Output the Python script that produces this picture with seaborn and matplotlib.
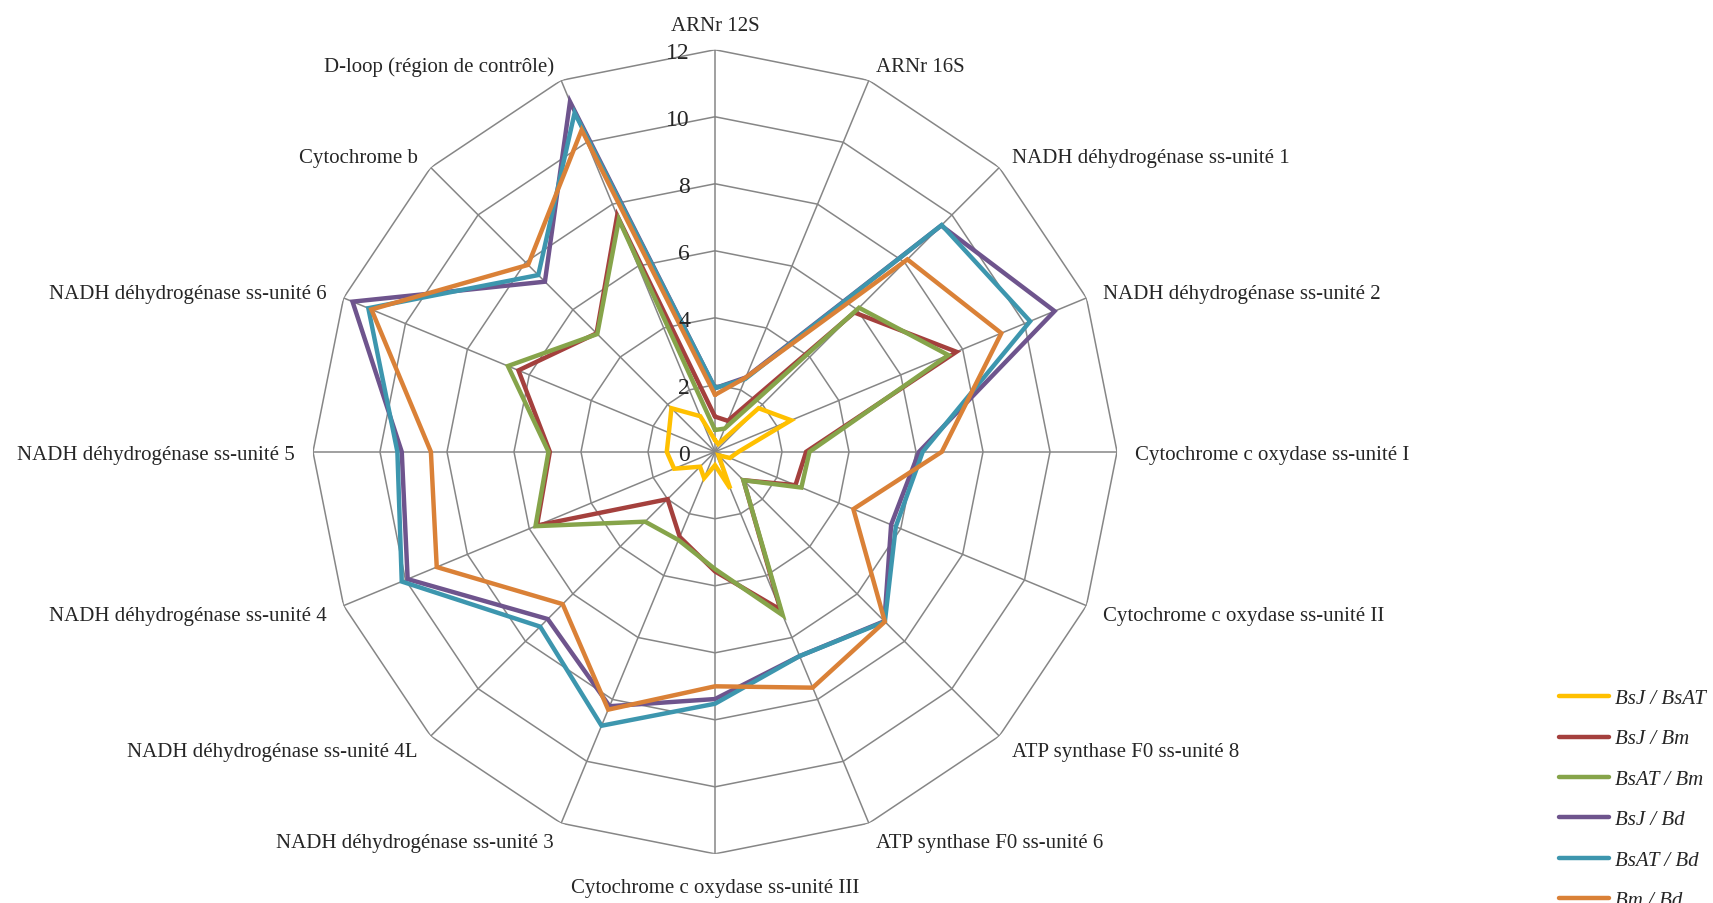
import numpy as np
import pandas as pd
import matplotlib.pyplot as plt
import seaborn as sns
from matplotlib.lines import Line2D

categories = [
    "ARNr 12S",
    "ARNr 16S",
    "NADH déhydrogénase ss-unité 1",
    "NADH déhydrogénase ss-unité 2",
    "Cytochrome c oxydase ss-unité I",
    "Cytochrome c oxydase ss-unité II",
    "ATP synthase F0 ss-unité 8",
    "ATP synthase F0 ss-unité 6",
    "Cytochrome c oxydase ss-unité III",
    "NADH déhydrogénase ss-unité 3",
    "NADH déhydrogénase ss-unité 4L",
    "NADH déhydrogénase ss-unité 4",
    "NADH déhydrogénase ss-unité 5",
    "NADH déhydrogénase ss-unité 6",
    "Cytochrome b",
    "D-loop (région de contrôle)",
]

series_names = ["BsJ / BsAT", "BsJ / Bm", "BsAT / Bm", "BsJ / Bd", "BsAT / Bd", "Bm / Bd"]

bsj_bsat = [0.35, 0.25, 1.84, 2.46, 0.7, 0.48, 0.15, 1.19, 0.4, 0.85, 0.63, 1.32, 1.44, 1.49, 1.84, 1.15]
bsj_bm = [1.05, 1.0, 5.88, 7.8, 2.72, 2.6, 1.2, 5.1, 3.57, 2.75, 2.0, 5.75, 4.93, 6.35, 5.0, 7.63]
bsat_bm = [0.65, 0.75, 6.08, 7.54, 2.82, 2.79, 1.2, 5.28, 3.5, 2.85, 2.95, 5.8, 4.97, 6.69, 4.97, 7.5]
bsj_bd = [1.9, 2.4, 9.55, 10.97, 6.09, 5.69, 7.15, 6.6, 7.38, 8.22, 7.06, 9.93, 9.35, 11.71, 7.18, 11.31]
bsat_bd = [1.9, 2.35, 9.57, 10.18, 6.2, 5.84, 7.17, 6.6, 7.52, 8.85, 7.38, 10.12, 9.48, 11.2, 7.46, 10.95]
bm_bd = [1.7, 2.4, 8.12, 9.25, 6.77, 4.47, 7.17, 7.62, 7.0, 8.33, 6.43, 8.99, 8.48, 11.1, 7.89, 10.4]

radial_ticks = [0, 2, 4, 6, 8, 10, 12]

colors = ["#FFC000", "#A4403D", "#86A44A", "#6E548D", "#3D96AE", "#DA8137"]

sns.set_theme(style="white")
plt.rcParams["font.family"] = ["Liberation Serif", "DejaVu Serif"]

n = len(categories)
angles = np.linspace(0, 2 * np.pi, n, endpoint=False)
closed = np.append(angles, 2 * np.pi)

# long form table, each polygon closed on itself
rows = []
for name, vals in zip(series_names, [bsj_bsat, bsj_bm, bsat_bm, bsj_bd, bsat_bd, bm_bd]):
    for a, v in zip(closed, list(vals) + [vals[0]]):
        rows.append({"angle": a, "value": v, "series": name})
df = pd.DataFrame(rows)

fig = plt.figure(figsize=(17.13, 9.035), dpi=100)
ax = fig.add_axes([0.1827, 0.0542, 0.4694, 0.8904], projection="polar")
ax.set_theta_zero_location("N")
ax.set_theta_direction(-1)

# polygon web instead of circles
grid_kw = dict(color="#868686", lw=1.1, zorder=1)
for r in radial_ticks[1:]:
    ax.plot(closed, [r] * (n + 1), **grid_kw)
for a in angles:
    ax.plot([a, a], [0, radial_ticks[-1]], **grid_kw)

sns.lineplot(
    data=df,
    x="angle",
    y="value",
    hue="series",
    palette=colors,
    sort=False,
    estimator=None,
    lw=3.2,
    legend=False,
    ax=ax,
    zorder=3,
    solid_joinstyle="miter",
)

ax.set_ylim(0, radial_ticks[-1])
ax.set_xticks([])
ax.set_yticks([])
ax.grid(False)
ax.spines["polar"].set_visible(False)
ax.set_xlabel("")
ax.set_ylabel("")

for a, lab in zip(angles, categories):
    s, c = np.sin(a), np.cos(a)
    if abs(s) < 0.01:
        ha = "center"
        va = "bottom" if c > 0 else "top"
    else:
        ha = "left" if s > 0 else "right"
        va = "center"
    dy = 13 * c - 2.4
    if c < -0.99:
        dy -= 2.5
    ax.annotate(lab, xy=(a, radial_ticks[-1]), xytext=(13 * s, dy),
                textcoords="offset points", ha=ha, va=va, fontsize=15,
                annotation_clip=False)

for r in radial_ticks:
    ax.annotate(str(r), xy=(0, r), xytext=(-18, -6), textcoords="offset points",
                ha="right", va="baseline", fontsize=17, annotation_clip=False)

# last entry runs off the bottom edge, as in the original
handles = [Line2D([], [], color=c, lw=3.2, solid_capstyle="round") for c in colors]
fig.legend(
    handles,
    series_names,
    loc="upper left",
    bbox_to_anchor=(1559 / 1713, 1 - 689 / 903),
    frameon=False,
    prop={"style": "italic", "size": 15},
    handlelength=2.42,
    handletextpad=0.25,
    labelspacing=1.0,
    borderpad=0,
    borderaxespad=0,
)

fig.savefig("out.png", dpi=100)
